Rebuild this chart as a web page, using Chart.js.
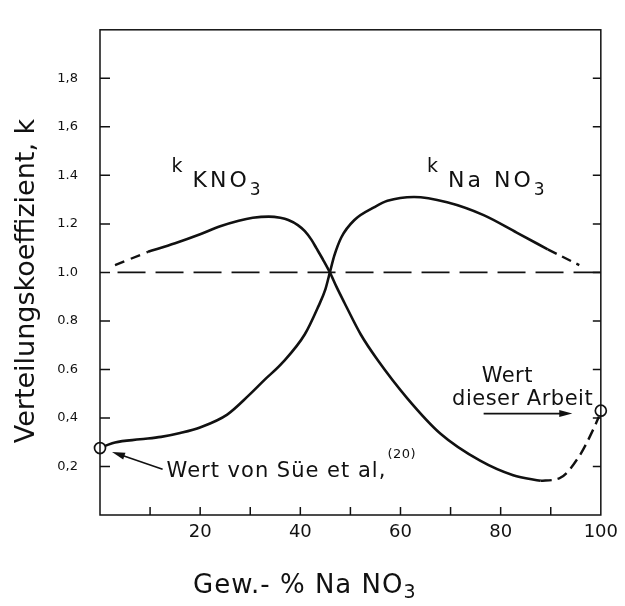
<!DOCTYPE html>
<html>
<head>
<meta charset="utf-8">
<script src="https://cdn.jsdelivr.net/npm/chart.js@4"></script>
<style>
  html, body { margin: 0; padding: 0; background: #fff; }
</style>
</head>
<body>
<canvas id="grafico" width="625" height="606"></canvas>
<script>
// Verteilungskoeffizient k über Gew.-% NaNO3
const kno3AnfangX = [3, 9.6];
const kno3AnfangY = [1.03, 1.085];
const kno3X = [9.6, 15, 20, 24, 27.7, 30.5, 33.7, 36, 37.6, 39.5, 40.9, 42.2, 43.2, 44.6, 45.9, 47.3, 48.8, 52.1, 55.4, 61.4, 68, 75.9, 82.5, 88];
const kno3Y = [1.085, 1.12, 1.157, 1.19, 1.213, 1.225, 1.23, 1.225, 1.216, 1.195, 1.17, 1.135, 1.10, 1.05, 1.0, 0.937, 0.875, 0.743, 0.64, 0.48, 0.335, 0.224, 0.164, 0.141];
const kno3EndeX = [88, 91.7, 95.7, 98.7, 99.6];
const kno3EndeY = [0.141, 0.151, 0.243, 0.362, 0.405];

const nano3X = [1, 3, 8, 12.2, 16, 20.1, 25.4, 29.7, 33, 36.3, 40.9, 43.6, 45.0, 45.9, 46.8, 48.2, 50.8, 54.8, 57.4, 62.7, 69.3, 76.6, 83.2, 89.4];
const nano3Y = [0.285, 0.299, 0.312, 0.322, 0.338, 0.362, 0.414, 0.493, 0.56, 0.625, 0.745, 0.86, 0.93, 1.0, 1.07, 1.145, 1.216, 1.269, 1.295, 1.311, 1.289, 1.236, 1.164, 1.095];
const nano3EndeX = [89.4, 95.7];
const nano3EndeY = [1.095, 1.03];

const einsX = [3.5, 100];
const einsY = [1.0, 1.0];

const messX = [0, 100];
const messY = [0.276, 0.43];

const yTickWerte = [0.2, 0.4, 0.6, 0.8, 1.0, 1.2, 1.4, 1.6, 1.8];
const yTickLabels = ['0,2', '0,4', '0.6', '0.8', '1.0', '1.2', '1.4', '1,6', '1,8'];
const xTickWerte = [20, 40, 60, 80, 100];
const xTickLabels = ['20', '40', '60', '80', '100'];

// Beschriftungen im Diagramm (Datenkoordinaten)
const pfeilSueVon = [12.5, 0.189];
const pfeilSueBis = [2.4, 0.26];
const pfeilArbeitVon = [76.6, 0.418];
const pfeilArbeitBis = [94.3, 0.418];
const textSue = [13.3, 0.158];
const textSueRef = [57.4, 0.233];
const textWert = [76.2, 0.548];
const textArbeit = [70.3, 0.454];
const labelKno3 = [14.3, 1.412];
const labelNano3 = [65.3, 1.412];

const punkte = (xs, ys) => xs.map((x, i) => ({ x: x, y: ys[i] }));
const schwarz = '#111';

Chart.defaults.font.family = 'DejaVu Sans';
Chart.defaults.color = schwarz;

const linie = (xs, ys, dash, breite) => ({
  type: 'line',
  data: punkte(xs, ys),
  borderColor: schwarz,
  borderWidth: breite,
  borderDash: dash,
  pointRadius: 0,
  cubicInterpolationMode: 'monotone',
  fill: false
});

const pfeil = (ctx, x1, y1, x2, y2) => {
  const w = Math.atan2(y2 - y1, x2 - x1);
  ctx.beginPath();
  ctx.moveTo(x1, y1);
  ctx.lineTo(x2 - 8 * Math.cos(w), y2 - 8 * Math.sin(w));
  ctx.stroke();
  ctx.beginPath();
  ctx.moveTo(x2, y2);
  ctx.lineTo(x2 - 13 * Math.cos(w) + 3.5 * Math.sin(w), y2 - 13 * Math.sin(w) - 3.5 * Math.cos(w));
  ctx.lineTo(x2 - 13 * Math.cos(w) - 3.5 * Math.sin(w), y2 - 13 * Math.sin(w) + 3.5 * Math.cos(w));
  ctx.closePath();
  ctx.fill();
};

const kLabel = (ctx, px, py, haupt) => {
  ctx.letterSpacing = '0px';
  ctx.font = '19px "DejaVu Sans"';
  ctx.fillText('k', px, py);
  ctx.letterSpacing = '3px';
  ctx.font = '22px "DejaVu Sans"';
  const hx = px + 21;
  ctx.fillText(haupt, hx, py + 15);
  const w = ctx.measureText(haupt).width;
  ctx.letterSpacing = '0px';
  ctx.font = '17px "DejaVu Sans"';
  ctx.fillText('3', hx + w, py + 23);
};

const rahmenPlugin = {
  id: 'rahmen',
  afterDatasetsDraw(chart) {
    const { ctx, chartArea: a, scales: { x, y } } = chart;
    ctx.save();
    ctx.strokeStyle = schwarz;
    ctx.fillStyle = schwarz;
    ctx.lineWidth = 1.5;
    ctx.strokeRect(a.left, a.top, a.right - a.left, a.bottom - a.top);
    y.ticks.forEach(t => {
      if (t.value <= 0.01 || t.value >= 1.99) return;
      const py = y.getPixelForValue(t.value);
      ctx.beginPath();
      ctx.moveTo(a.left, py); ctx.lineTo(a.left + 10, py);
      ctx.moveTo(a.right - 8, py); ctx.lineTo(a.right, py);
      ctx.stroke();
    });
    x.ticks.forEach(t => {
      if (t.value <= 0 || t.value >= 100) return;
      const px = x.getPixelForValue(t.value);
      ctx.beginPath();
      ctx.moveTo(px, a.bottom); ctx.lineTo(px, a.bottom - 8);
      ctx.stroke();
    });

    // Pfeile
    ctx.lineWidth = 1.6;
    pfeil(ctx, x.getPixelForValue(pfeilSueVon[0]), y.getPixelForValue(pfeilSueVon[1]),
      x.getPixelForValue(pfeilSueBis[0]), y.getPixelForValue(pfeilSueBis[1]));
    pfeil(ctx, x.getPixelForValue(pfeilArbeitVon[0]), y.getPixelForValue(pfeilArbeitVon[1]),
      x.getPixelForValue(pfeilArbeitBis[0]), y.getPixelForValue(pfeilArbeitBis[1]));

    // Texte
    ctx.textBaseline = 'alphabetic';
    ctx.textAlign = 'left';
    ctx.font = '21px "DejaVu Sans"';
    ctx.letterSpacing = '1px';
    ctx.fillText('Wert von Süe et al,', x.getPixelForValue(textSue[0]), y.getPixelForValue(textSue[1]));
    ctx.letterSpacing = '0.5px';
    ctx.fillText('Wert', x.getPixelForValue(textWert[0]), y.getPixelForValue(textWert[1]));
    ctx.fillText('dieser Arbeit', x.getPixelForValue(textArbeit[0]), y.getPixelForValue(textArbeit[1]));
    ctx.font = '13px "DejaVu Sans"';
    ctx.fillText('(20)', x.getPixelForValue(textSueRef[0]), y.getPixelForValue(textSueRef[1]));

    kLabel(ctx, x.getPixelForValue(labelKno3[0]), y.getPixelForValue(labelKno3[1]), 'KNO');
    kLabel(ctx, x.getPixelForValue(labelNano3[0]), y.getPixelForValue(labelNano3[1]), 'Na NO');

    // x-Achsentitel
    ctx.letterSpacing = '1px';
    ctx.font = '26px "DejaVu Sans"';
    const tx = a.left + 93;
    const ty = a.bottom + 78;
    const titel = 'Gew.- % Na NO';
    ctx.fillText(titel, tx, ty);
    const tw = ctx.measureText(titel).width;
    ctx.font = '19px "DejaVu Sans"';
    ctx.fillText('3', tx + tw, ty + 5);
    ctx.restore();
  }
};

const grafico = document.getElementById('grafico');
new Chart(grafico, {
  type: 'line',
  data: {
    datasets: [
      linie(einsX, einsY, [28, 10], 1.6),
      linie(kno3AnfangX, kno3AnfangY, [10, 7], 2.4),
      linie(kno3X, kno3Y, [], 2.6),
      linie(kno3EndeX, kno3EndeY, [11, 6], 2.4),
      linie(nano3X, nano3Y, [], 2.6),
      linie(nano3EndeX, nano3EndeY, [10, 6], 2.4),
      {
        type: 'line',
        data: punkte(messX, messY),
        showLine: false,
        pointRadius: 5.5,
        pointBorderWidth: 1.7,
        pointBorderColor: schwarz,
        pointBackgroundColor: '#fff',
        clip: false
      },
      {
        type: 'line',
        data: punkte(messX, messY),
        showLine: false,
        pointRadius: 1.3,
        pointBorderWidth: 0,
        pointBackgroundColor: schwarz,
        clip: false
      }
    ]
  },
  options: {
    responsive: false,
    animation: false,
    devicePixelRatio: 1,
    layout: { padding: { top: 7, right: 20, left: 0, bottom: 0 } },
    plugins: { legend: { display: false }, tooltip: { enabled: false } },
    scales: {
      x: {
        type: 'linear',
        min: 0,
        max: 100,
        afterFit: (s) => { s.height = 91; },
        grid: { display: false, drawTicks: false },
        border: { display: false },
        ticks: {
          stepSize: 10,
          autoSkip: false,
          maxRotation: 0,
          padding: 7,
          font: { size: 18 },
          callback: (v) => {
            const i = xTickWerte.indexOf(Math.round(v));
            return i >= 0 ? xTickLabels[i] : '';
          }
        }
      },
      y: {
        type: 'linear',
        min: 0,
        max: 2,
        afterFit: (s) => { s.width = 100; },
        grid: { display: false, drawTicks: false },
        border: { display: false },
        title: {
          display: true,
          text: 'Verteilungskoeffizient, k  ',
          font: { size: 27 },
          padding: { top: 11, bottom: 0 }
        },
        ticks: {
          stepSize: 0.2,
          autoSkip: false,
          padding: 22,
          font: { size: 13 },
          callback: (v) => {
            const i = yTickWerte.findIndex(w => Math.abs(w - v) < 0.001);
            return i >= 0 ? yTickLabels[i] : '';
          }
        }
      }
    }
  },
  plugins: [rahmenPlugin]
});
</script>
</body>
</html>
